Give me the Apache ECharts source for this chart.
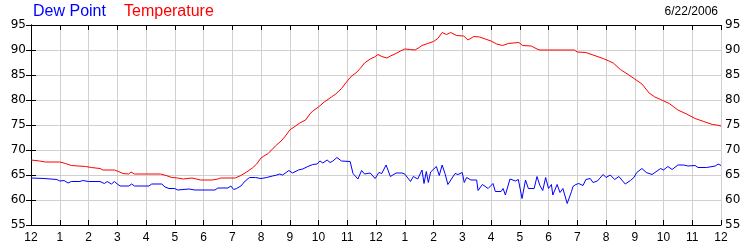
<!DOCTYPE html>
<html>
<head>
<meta charset="utf-8">
<script src="https://cdn.jsdelivr.net/npm/echarts@6/dist/echarts.min.js"></script>
<style>
html,body{margin:0;padding:0;background:#fff;}
#chart{width:750px;height:250px;}
</style>
</head>
<body>
<div id="chart"></div>
<script>
// ---- data (hours since midnight, degrees F) ----
var tickLabels = ['12','1','2','3','4','5','6','7','8','9','10','11','12','1','2','3','4','5','6','7','8','9','10','11','12'];
var yTicks = [55,60,65,70,75,80,85,90,95];
var dateText = '6/22/2006';
var seriesNames = ['Dew Point','Temperature'];

var tempHours = [0,0.3,0.5,1.0,1.2,1.4,1.9,2.1,2.4,2.5,2.9,3.0,3.2,3.4,3.48,3.6,4.5,4.7,4.9,5.1,5.3,5.6,5.9,6.3,6.5,6.6,7.1,7.3,7.5,7.7,7.85,8.0,8.1,8.25,8.4,8.5,8.7,8.85,9.0,9.2,9.35,9.55,9.7,9.8,10.0,10.2,10.45,10.6,10.8,11.0,11.15,11.3,11.45,11.6,11.8,11.95,12.07,12.2,12.38,12.5,12.66,12.85,13.0,13.2,13.36,13.5,13.6,13.8,14.0,14.15,14.3,14.45,14.6,14.8,15.05,15.2,15.4,15.6,15.8,16.0,16.2,16.4,16.6,16.97,17.1,17.4,17.6,17.7,18.9,19.0,19.3,19.55,19.9,20.1,20.25,20.5,20.77,21.0,21.25,21.5,21.7,21.9,22.2,22.5,22.8,23.1,23.4,23.7,23.85,24.0];
var tempValues = [68.0,67.8,67.6,67.6,67.3,66.9,66.7,66.5,66.3,66.0,66.0,65.8,65.3,65.2,65.6,65.2,65.2,64.9,64.5,64.4,64.2,64.4,64.0,64.0,64.2,64.4,64.4,64.9,65.6,66.4,67.2,68.4,68.8,69.3,70.2,70.8,71.8,72.8,74.0,74.8,75.4,76.0,77.2,77.8,78.6,79.6,80.6,81.2,82.3,83.8,84.8,85.4,86.3,87.4,88.2,88.6,89.1,88.7,88.4,88.8,89.2,89.8,90.2,90.1,90.0,90.5,90.9,91.3,91.7,92.3,93.5,93.1,93.5,92.9,92.8,92.0,92.7,92.6,92.2,91.8,91.2,90.9,91.3,91.5,90.9,90.8,90.2,90.0,90.0,89.6,89.5,89.0,88.3,87.8,87.4,86.1,85.1,84.2,83.2,81.4,80.6,80.1,79.3,78.0,77.2,76.3,75.7,75.1,75.0,74.8];

var dewHours = [0,0.45,0.5,0.9,1.0,1.15,1.29,1.4,1.7,1.8,1.85,2.0,2.4,2.55,2.65,2.8,2.9,3.0,3.1,3.4,3.5,3.6,4.1,4.2,4.55,4.66,4.8,5.0,5.1,5.5,5.7,6.4,6.5,6.85,6.95,7.05,7.15,7.3,7.45,7.6,7.8,8.0,8.2,8.4,8.55,8.65,8.75,8.97,9.1,9.3,9.45,9.63,9.8,9.95,10.05,10.15,10.3,10.4,10.5,10.64,10.8,11.1,11.2,11.37,11.5,11.6,11.8,11.97,12.1,12.2,12.35,12.5,12.7,12.9,13.0,13.2,13.3,13.45,13.6,13.67,13.75,13.82,13.9,14.1,14.2,14.3,14.4,14.5,14.75,14.85,15.0,15.07,15.15,15.3,15.5,15.55,15.7,15.9,16.07,16.15,16.35,16.42,16.5,16.66,16.85,16.95,17.08,17.2,17.3,17.5,17.6,17.7,17.8,17.9,18.0,18.1,18.15,18.3,18.4,18.5,18.65,18.8,18.85,18.95,19.05,19.1,19.2,19.3,19.45,19.55,19.7,19.9,20.0,20.15,20.3,20.45,20.55,20.67,20.85,20.97,21.07,21.25,21.4,21.6,21.9,22.0,22.15,22.3,22.5,22.7,22.85,23.1,23.2,23.5,23.8,23.9,24.0];
var dewValues = [64.4,64.3,64.1,64.1,63.8,63.9,63.4,63.7,63.7,63.9,63.5,63.7,63.7,63.3,63.7,63.2,63.7,63.2,62.8,62.8,63.2,62.8,62.8,63.2,63.2,62.6,62.3,62.3,62.0,62.2,62.0,62.0,62.4,62.4,62.8,62.1,62.3,62.8,63.8,64.5,64.5,64.3,64.5,64.8,65.0,65.2,65.0,65.9,65.4,66.0,66.2,66.7,67.1,67.2,67.8,67.4,68.0,67.5,67.8,68.5,67.8,67.7,65.3,64.2,65.9,65.2,65.4,64.3,65.5,65.3,67.0,64.7,65.4,65.4,65.2,63.7,64.7,64.2,66.0,63.3,65.7,63.5,65.6,66.7,64.9,67.0,65.3,63.1,65.3,65.1,65.5,63.5,64.5,64.0,64.0,61.9,63.1,62.3,63.3,61.7,61.7,62.3,61.0,64.2,63.8,64.1,60.3,64.0,62.3,62.3,64.7,62.9,61.9,64.5,62.3,63.1,61.0,63.1,61.5,62.3,59.3,61.7,62.7,63.1,63.3,63.0,62.9,64.1,64.3,63.5,63.8,65.1,64.5,65.0,64.1,64.7,64.0,63.2,63.9,64.5,65.5,66.3,65.5,65.1,66.3,66.0,66.7,66.1,67.0,67.0,66.8,66.9,66.5,66.5,66.8,67.2,66.9];

function zip(xs, ys){ var out=[]; for(var i=0;i<xs.length;i++){ out.push([xs[i], ys[i]]); } return out; }

var chart = echarts.init(document.getElementById('chart'), null, {renderer:'canvas'});
var axisBlack = {show:true, lineStyle:{color:'#000', width:1}};
var tickIn = {show:true, inside:true, length:5, lineStyle:{color:'#000', width:1}};
var grid = {left:31, right:29, top:25, bottom:25, containLabel:false};

chart.setOption({
  animation:false,
  backgroundColor:'#fff',
  grid: grid,
  graphic:[
    {type:'text', left:33, top:4, style:{text:seriesNames[0], fill:'#0000ff', font:'16px "Liberation Sans", Arial, sans-serif'}},
    {type:'text', left:124, top:4, style:{text:seriesNames[1], fill:'#ff0000', font:'16px "Liberation Sans", Arial, sans-serif'}},
    {type:'text', right:32, top:6, style:{text:dateText, fill:'#000', font:'12px "Liberation Sans", Arial, sans-serif'}}
  ],
  xAxis:[
    {type:'value', position:'bottom', min:0, max:24, interval:1,
     axisLine:axisBlack, axisTick:tickIn,
     axisLabel:{show:true, margin:7, color:'#000', fontSize:12, fontFamily:'"Liberation Sans", Arial, sans-serif',
       formatter:function(v){ return tickLabels[Math.round(v)]; }},
     splitLine:{show:true, lineStyle:{color:'#d0d0d0', width:1}}},
    {type:'value', position:'top', min:0, max:24, interval:1,
     axisLine:axisBlack, axisTick:tickIn, axisLabel:{show:false}, splitLine:{show:false}}
  ],
  yAxis:[
    {type:'value', position:'left', min:yTicks[0], max:yTicks[yTicks.length-1], interval:5,
     axisLine:axisBlack, axisTick:tickIn,
     axisLabel:{show:true, margin:5, color:'#000', fontSize:12, fontFamily:'"DejaVu Sans", Verdana, sans-serif'},
     splitLine:{show:true, lineStyle:{color:'#d0d0d0', width:1}}},
    {type:'value', position:'right', min:yTicks[0], max:yTicks[yTicks.length-1], interval:5,
     axisLine:axisBlack, axisTick:tickIn,
     axisLabel:{show:true, margin:4, color:'#000', fontSize:12, fontFamily:'"DejaVu Sans", Verdana, sans-serif'},
     splitLine:{show:false}}
  ],
  series:[
    {name:seriesNames[1], type:'line', xAxisIndex:0, yAxisIndex:0, data:zip(tempHours,tempValues),
     showSymbol:false, symbol:'none', lineStyle:{color:'#ff0000', width:1}, z:3},
    {name:seriesNames[0], type:'line', xAxisIndex:0, yAxisIndex:0, data:zip(dewHours,dewValues),
     showSymbol:false, symbol:'none', lineStyle:{color:'#0000ff', width:1}, z:4}
  ]
});
</script>
</body>
</html>
